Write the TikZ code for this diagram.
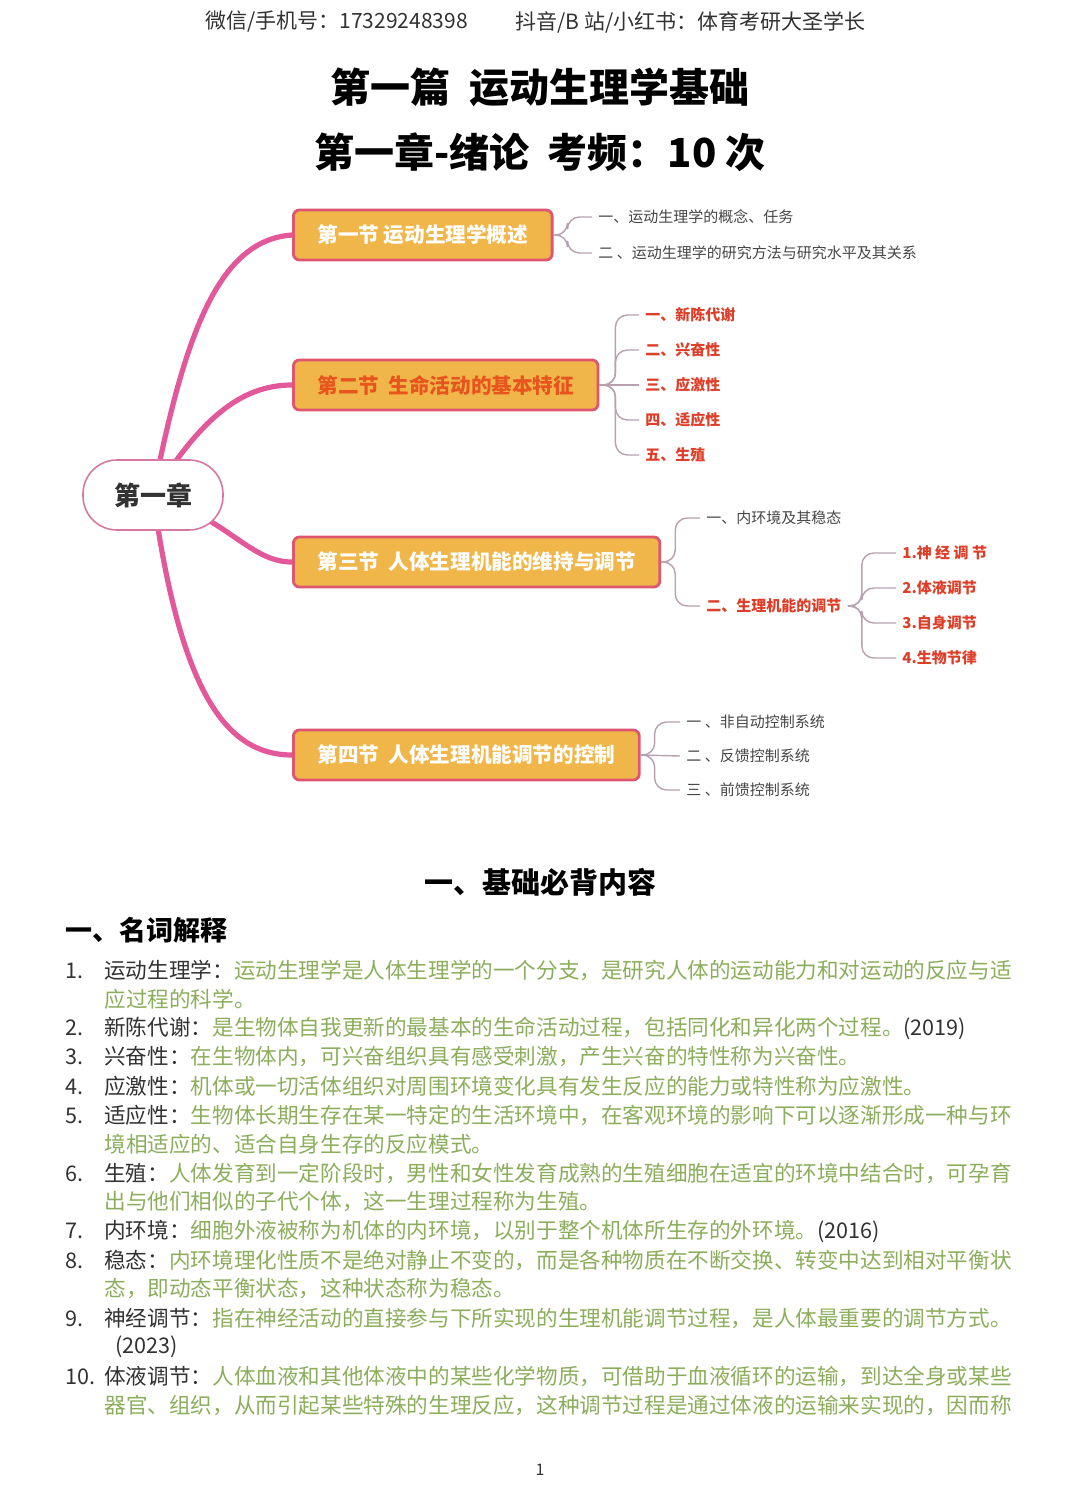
\documentclass[tikz,border=0pt]{standalone}
\usepackage{fontspec}
\setmainfont{Noto Sans CJK SC}
\usetikzlibrary{backgrounds}

\definecolor{branchpink}{RGB}{226,88,154}
\definecolor{boxfill}{RGB}{240,182,74}
\definecolor{boxedge}{RGB}{222,86,112}
\definecolor{rootedge}{RGB}{214,120,160}
\definecolor{twiggray}{RGB}{185,160,175}
\definecolor{leafred}{RGB}{222,62,40}
\definecolor{sectred}{RGB}{232,84,30}
\definecolor{leafgray}{RGB}{70,70,70}
\definecolor{termgray}{RGB}{50,50,50}
\definecolor{defgreen}{RGB}{140,174,92}

\newcommand{\defn}[1]{\textcolor{defgreen}{#1}}
\newcommand{\listno}[1]{\makebox[19.5pt][l]{#1}}

\begin{document}
\begin{tikzpicture}[x=0.5pt, y=-0.5pt]
\tikzstyle{root} = [draw=rootedge, line width=0.8pt, fill=white, rounded corners=17pt, minimum width=70pt, minimum height=35pt, text=termgray, font=\fontsize{13}{15}\selectfont\bfseries]
\tikzstyle{sect} = [draw=boxedge, line width=1.4pt, fill=boxfill, rounded corners=3pt, minimum height=25pt, inner xsep=12pt, anchor=west, text=white, font=\fontsize{10.3}{12}\selectfont\bfseries]
\tikzstyle{leaf} = [anchor=west, inner sep=3pt, text=leafgray, font=\fontsize{7.5}{9}\selectfont]
\tikzstyle{redleaf} = [leaf, text=leafred, font=\fontsize{7.5}{9}\selectfont\bfseries]
\tikzstyle{branch} = [draw=branchpink, line width=2.6pt, line cap=round]
\tikzstyle{twig} = [draw=twiggray, line width=0.7pt, rounded corners=6pt]
\tikzstyle{listline} = [anchor=west, inner sep=0pt, text=termgray, font=\fontsize{10.8}{13}\selectfont]

\useasboundingbox (0,0) rectangle (1080,1503);

% header
\node[anchor=west, inner sep=0pt, text=termgray, font=\fontsize{10.5}{12}\selectfont] (wechat) at (205,22) {微信/手机号：17329248398};
\node[anchor=west, inner sep=0pt, text=termgray, font=\fontsize{10.5}{12}\selectfont] (douyin) at (515,22) {抖音/B 站/小红书：体育考研大圣学长};
\node[font=\fontsize{20}{24}\selectfont\bfseries] (part) at (540,87) {第一篇\ \ 运动生理学基础};
\node[font=\fontsize{20}{24}\selectfont\bfseries] (chap) at (540,152) {第一章-绪论\ \ 考频：10 次};

% mind map
\node[root] (root) at (153,495) {第一章};

\node[sect] (s1) at (292,235) {第一节 运动生理学概述};
\node[sect, text=sectred] (s2) at (292,385) {第二节\ \ 生命活动的基本特征};
\node[sect] (s3) at (292,562) {第三节\ \ 人体生理机能的维持与调节};
\node[sect] (s4) at (292,755) {第四节\ \ 人体生理机能调节的控制};

\node[leaf] (c11) at (592,217) {一、运动生理学的概念、任务};
\node[leaf] (c12) at (592,253) {二 、运动生理学的研究方法与研究水平及其关系};

\node[redleaf] (c21) at (639,315) {一、新陈代谢};
\node[redleaf] (c22) at (639,350) {二、兴奋性};
\node[redleaf] (c23) at (639,385) {三、应激性};
\node[redleaf] (c24) at (639,420) {四、适应性};
\node[redleaf] (c25) at (639,455) {五、生殖};

\node[leaf] (c31) at (700,518) {一、内环境及其稳态};
\node[redleaf] (c32) at (700,606) {二、生理机能的调节};
\node[redleaf] (c321) at (896,553) {1.神 经 调 节};
\node[redleaf] (c322) at (896,588) {2.体液调节};
\node[redleaf] (c323) at (896,623) {3.自身调节};
\node[redleaf] (c324) at (896,658) {4.生物节律};

\node[leaf] (c41) at (680,722) {一 、非自动控制系统};
\node[leaf] (c42) at (680,756) {二 、反馈控制系统};
\node[leaf] (c43) at (680,790) {三 、前馈控制系统};

\begin{scope}[on background layer]
\fill[white] (0,0) rectangle (1080,1503);
\path[branch] (root.center) .. controls (185,330) and (220,240) .. (s1.west);
\path[branch] (root.center) .. controls (200,420) and (240,385) .. (s2.west);
\path[branch] (root.center) .. controls (230,520) and (250,562) .. (s3.west);
\path[branch] (root.center) .. controls (180,690) and (225,755) .. (s4.west);
\end{scope}

\path[twig] (s1.east) -- ++(14,0) |- (c11.west);
\path[twig] (s1.east) -- ++(14,0) |- (c12.west);
\path[twig] (s2.east) -- ++(16,0) |- (c21.west);
\path[twig] (s2.east) -- ++(16,0) |- (c22.west);
\path[twig] (s2.east) -- (c23.west);
\path[twig] (s2.east) -- ++(16,0) |- (c24.west);
\path[twig] (s2.east) -- ++(16,0) |- (c25.west);
\path[twig] (s3.east) -- ++(14,0) |- (c31.west);
\path[twig] (s3.east) -- ++(14,0) |- (c32.west);
\path[twig] (c32.east) -- ++(14,0) |- (c321.west);
\path[twig] (c32.east) -- ++(14,0) |- (c322.west);
\path[twig] (c32.east) -- ++(14,0) |- (c323.west);
\path[twig] (c32.east) -- ++(14,0) |- (c324.west);
\path[twig] (s4.east) -- ++(14,0) |- (c41.west);
\path[twig] (s4.east) -- (c42.west);
\path[twig] (s4.east) -- ++(14,0) |- (c43.west);

% notes
\node[font=\fontsize{14.5}{17}\selectfont\bfseries] (basics) at (540,882) {一、基础必背内容};
\node[anchor=west, inner sep=0pt, font=\fontsize{13.5}{16}\selectfont\bfseries] (terms) at (65,930) {一、名词解释};

\node[listline] (l1) at (65,970) {\listno{1.}运动生理学：\defn{运动生理学是人体生理学的一个分支，是研究人体的运动能力和对运动的反应与适}};
\node[listline] (l2) at (104,999) {\defn{应过程的科学。}};
\node[listline] (l3) at (65,1028) {\listno{2.}新陈代谢：\defn{是生物体自我更新的最基本的生命活动过程，包括同化和异化两个过程。}(2019)};
\node[listline] (l4) at (65,1057) {\listno{3.}兴奋性：\defn{在生物体内，可兴奋组织具有感受刺激，产生兴奋的特性称为兴奋性。}};
\node[listline] (l5) at (65,1086) {\listno{4.}应激性：\defn{机体或一切活体组织对周围环境变化具有发生反应的能力或特性称为应激性。}};
\node[listline] (l6) at (65,1115) {\listno{5.}适应性：\defn{生物体长期生存在某一特定的生活环境中，在客观环境的影响下可以逐渐形成一种与环}};
\node[listline] (l7) at (104,1144) {\defn{境相适应的、适合自身生存的反应模式。}};
\node[listline] (l8) at (65,1173) {\listno{6.}生殖：\defn{人体发育到一定阶段时，男性和女性发育成熟的生殖细胞在适宜的环境中结合时，可孕育}};
\node[listline] (l9) at (104,1202) {\defn{出与他们相似的子代个体，这一生理过程称为生殖。}};
\node[listline] (l10) at (65,1231) {\listno{7.}内环境：\defn{细胞外液被称为机体的内环境，以别于整个机体所生存的外环境。}(2016)};
\node[listline] (l11) at (65,1260) {\listno{8.}稳态：\defn{内环境理化性质不是绝对静止不变的，而是各种物质在不断交换、转变中达到相对平衡状}};
\node[listline] (l12) at (104,1289) {\defn{态，即动态平衡状态，这种状态称为稳态。}};
\node[listline] (l13) at (65,1318) {\listno{9.}神经调节：\defn{指在神经活动的直接参与下所实现的生理机能调节过程，是人体最重要的调节方式。}};
\node[listline] (l14) at (115,1347) {(2023)};
\node[listline] (l15) at (65,1376) {\listno{10.}体液调节：\defn{人体血液和其他体液中的某些化学物质，可借助于血液循环的运输，到达全身或某些}};
\node[listline] (l16) at (104,1405) {\defn{器官、组织，从而引起某些特殊的生理反应，这种调节过程是通过体液的运输来实现的，因而称}};

\node[text=termgray, font=\fontsize{8}{10}\selectfont] (page) at (540,1470) {1};
\end{tikzpicture}
\end{document}
